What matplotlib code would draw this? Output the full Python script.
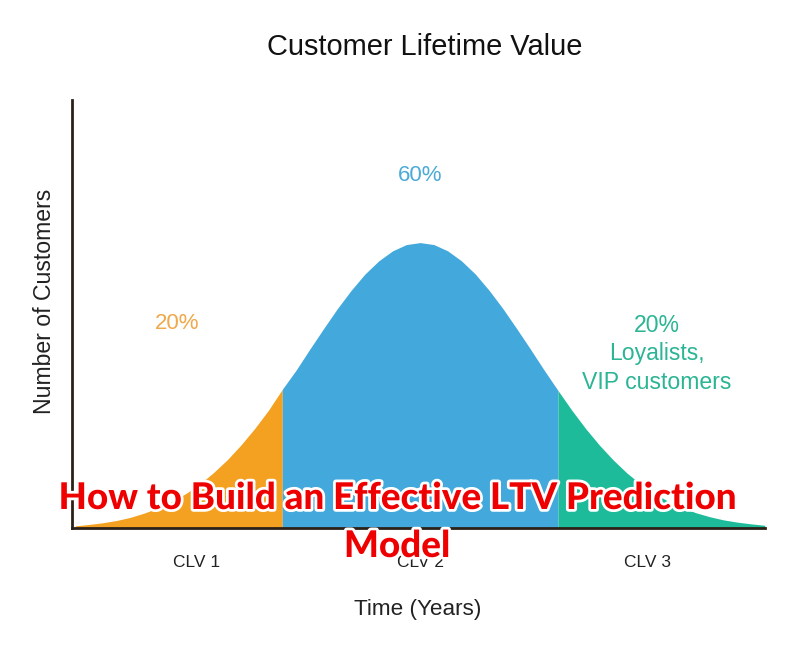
import numpy as np
import matplotlib
matplotlib.use('Agg')
from matplotlib import pyplot as plt
import matplotlib.patheffects as pe


# curve: time (years) vs relative number of customers
years = [0.0, 0.2, 0.4, 0.6, 0.8, 1.0, 1.2, 1.4, 1.6, 1.8,
         2.0, 2.2, 2.4, 2.6, 2.8, 3.0, 3.2, 3.4, 3.6, 3.8,
         4.0, 4.2, 4.4, 4.6, 4.8, 5.0, 5.2, 5.4, 5.6, 5.8,
         6.0, 6.2, 6.4, 6.6, 6.8, 7.0, 7.2, 7.4, 7.6, 7.8,
         8.0, 8.2, 8.4, 8.6, 8.8, 9.0, 9.2, 9.4, 9.6, 9.8, 10.0]
customers = [0.8, 1.3, 1.9, 2.7, 3.8, 5.3, 7.1, 9.4, 12.1, 15.4,
             19.4, 23.9, 29.1, 34.9, 41.3, 48.6, 55.3, 62.7, 69.9, 76.9,
             83.3, 89.0, 93.6, 97.1, 99.3, 100.0, 99.3, 97.1, 93.6, 89.0,
             83.3, 76.9, 69.9, 62.7, 55.3, 48.2, 41.3, 34.9, 29.1, 23.9,
             19.3, 15.4, 12.1, 9.4, 7.2, 5.4, 4.0, 2.9, 2.1, 1.5, 1.0]

# segment borders (years)
cut_low = 3.0
cut_high = 7.0

tick_pos = [1.75, 5.0, 8.3]
tick_labels = ['CLV 1', 'CLV 2', 'CLV 3']

share_labels = ['20%', '60%', '20%\nLoyalists,\nVIP customers']

headline = ['How to Build an Effective LTV Prediction', 'Model']

ORANGE = '#F4A122'
BLUE = '#43A8DB'
TEAL = '#1DBB9A'


def main():
    x = np.array(years)
    y = np.array(customers)

    fig = plt.figure(figsize=(8, 6.61), dpi=100)
    ax = fig.add_axes([0.09, 0.201, 0.866, 0.648])

    low = x <= cut_low
    mid = (x >= cut_low) & (x <= cut_high)
    high = x >= cut_high
    ax.fill_between(x[low], 0, y[low], color=ORANGE, lw=0)
    ax.fill_between(x[mid], 0, y[mid], color=BLUE, lw=0)
    ax.fill_between(x[high], 0, y[high], color=TEAL, lw=0)

    ax.set_xlim(-0.05, 10.0)
    ax.set_ylim(0, 150)

    for s in ['top', 'right']:
        ax.spines[s].set_visible(False)
    for s in ['left', 'bottom']:
        ax.spines[s].set_color('#2B2118')
        ax.spines[s].set_linewidth(2)
        ax.spines[s].set_zorder(5)

    ax.set_yticks([])
    ax.set_xticks(tick_pos)
    ax.set_xticklabels(tick_labels, fontsize=12.5, family='Liberation Sans', color='#222222')
    ax.tick_params(axis='x', length=0, pad=19)

    ax.text(1.47, 71.5, share_labels[0], color='#F0A84A', fontsize=16,
            family='Liberation Sans', ha='center', va='center')
    ax.text(5.0, 123.4, share_labels[1], color='#4BAAD8', fontsize=16,
            family='Liberation Sans', ha='center', va='center')
    ax.text(8.43, 61.0, share_labels[2], color='#2BB594', fontsize=16.6,
            family='Liberation Sans', ha='center', va='center', linespacing=1.3)

    fig.text(425 / 800, 1 - 47 / 661, 'Customer Lifetime Value', fontsize=20.9,
             family='Liberation Sans', ha='center', va='center', color='#111111')
    fig.text(45 / 800, 1 - 301 / 661, 'Number of Customers', fontsize=16.6,
             family='Liberation Sans', ha='center', va='center', rotation=90, color='#222222')
    fig.text(418 / 800, 1 - 610 / 661, 'Time (Years)', fontsize=16.2,
             family='Liberation Sans', ha='center', va='center', color='#222222')

    # overlaid headline, one text per line
    for line, ypix in zip(headline, [498, 546]):
        fig.text(397 / 800, 1 - ypix / 661, line,
                 fontsize=26.5, family='Lato', fontweight='black', color='#EE0000',
                 ha='center', va='center', zorder=10,
                 path_effects=[pe.withStroke(linewidth=4, foreground='white')])

    fig.savefig('out.png', dpi=100, facecolor='white')


if __name__ == '__main__':
    main()
